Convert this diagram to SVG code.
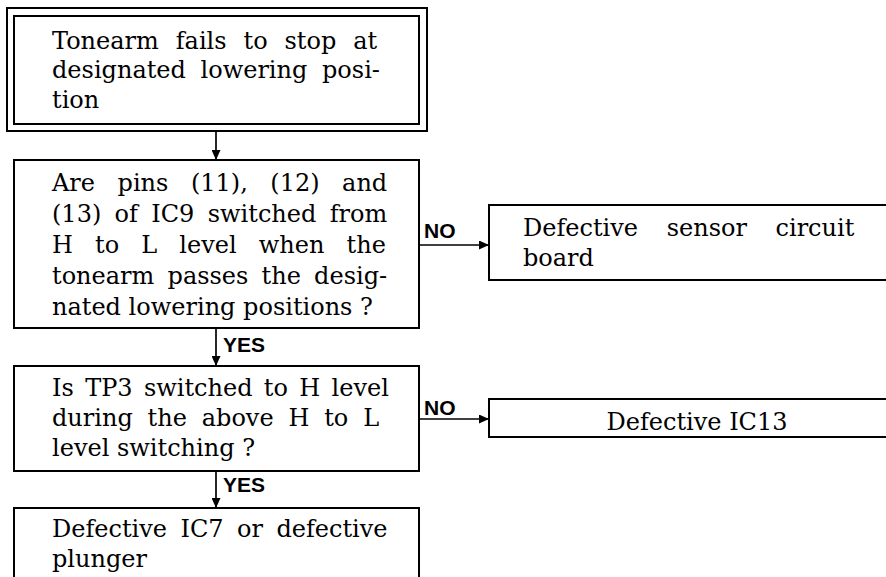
<svg xmlns="http://www.w3.org/2000/svg" width="886" height="577" viewBox="0 0 886 577">
<style>
  .box { fill: #fff; stroke: #000; stroke-width: 2; }
  .t { font-family: "DejaVu Serif", "Liberation Serif", serif; font-size: 24px; fill: #000; }
  .lbl { font-family: "Liberation Sans", Arial, sans-serif; font-weight: bold; font-size: 21px; fill: #000; }
  .conn { fill: none; stroke: #000; stroke-width: 1.7; }
</style>
<defs>
  <marker id="arr" markerUnits="userSpaceOnUse" markerWidth="10" markerHeight="9" refX="10" refY="4.5" orient="auto">
    <path d="M0,0 L10,4.5 L0,9 z" fill="#000"/>
  </marker>
</defs>
<rect width="886" height="577" fill="#fff"/>

<g id="start">
  <rect class="box" x="7" y="8" width="420" height="123"/>
  <rect class="box" x="14" y="16" width="405" height="108"/>
  <text class="t" x="52" y="49" word-spacing="9.3">Tonearm fails to stop at</text>
  <text class="t" x="52" y="78" word-spacing="7">designated lowering posi-</text>
  <text class="t" x="52" y="108">tion</text>
</g>

<g id="q1">
  <rect class="box" x="14" y="160" width="405" height="168"/>
  <text class="t" x="52" y="191" word-spacing="14.9">Are pins (11), (12) and</text>
  <text class="t" x="52" y="222" word-spacing="5.7">(13) of IC9 switched from</text>
  <text class="t" x="52" y="253" word-spacing="14.5">H to L level when the</text>
  <text class="t" x="52" y="284" word-spacing="5.6">tonearm passes the desig-</text>
  <text class="t" x="52" y="315">nated lowering positions ?</text>
</g>

<g id="r1">
  <rect class="box" x="489" y="205" width="420" height="75"/>
  <text class="t" x="523" y="236" word-spacing="21">Defective sensor circuit</text>
  <text class="t" x="523" y="266">board</text>
</g>

<g id="q2">
  <rect class="box" x="14" y="366" width="405" height="105"/>
  <text class="t" x="52" y="396" word-spacing="3.7">Is TP3 switched to H level</text>
  <text class="t" x="52" y="426" word-spacing="7.2">during the above H to L</text>
  <text class="t" x="52" y="456">level switching ?</text>
</g>

<g id="r2">
  <rect class="box" x="489" y="399" width="420" height="38"/>
  <text class="t" x="697" y="430" text-anchor="middle">Defective IC13</text>
</g>

<g id="end">
  <rect class="box" x="14" y="508" width="405" height="90"/>
  <text class="t" x="52" y="537" word-spacing="5.8">Defective IC7 or defective</text>
  <text class="t" x="52" y="567">plunger</text>
</g>

<g id="connectors">
  <line class="conn" x1="216" y1="131" x2="216" y2="160" marker-end="url(#arr)"/>
  <line class="conn" x1="216" y1="328" x2="216" y2="366" marker-end="url(#arr)"/>
  <line class="conn" x1="216" y1="471" x2="216" y2="508" marker-end="url(#arr)"/>
  <line class="conn" x1="419" y1="245" x2="489" y2="245" marker-end="url(#arr)"/>
  <line class="conn" x1="419" y1="419" x2="489" y2="419" marker-end="url(#arr)"/>
  <text class="lbl" x="223" y="352">YES</text>
  <text class="lbl" x="223" y="492">YES</text>
  <text class="lbl" x="424" y="238">NO</text>
  <text class="lbl" x="424" y="415">NO</text>
</g>
</svg>
